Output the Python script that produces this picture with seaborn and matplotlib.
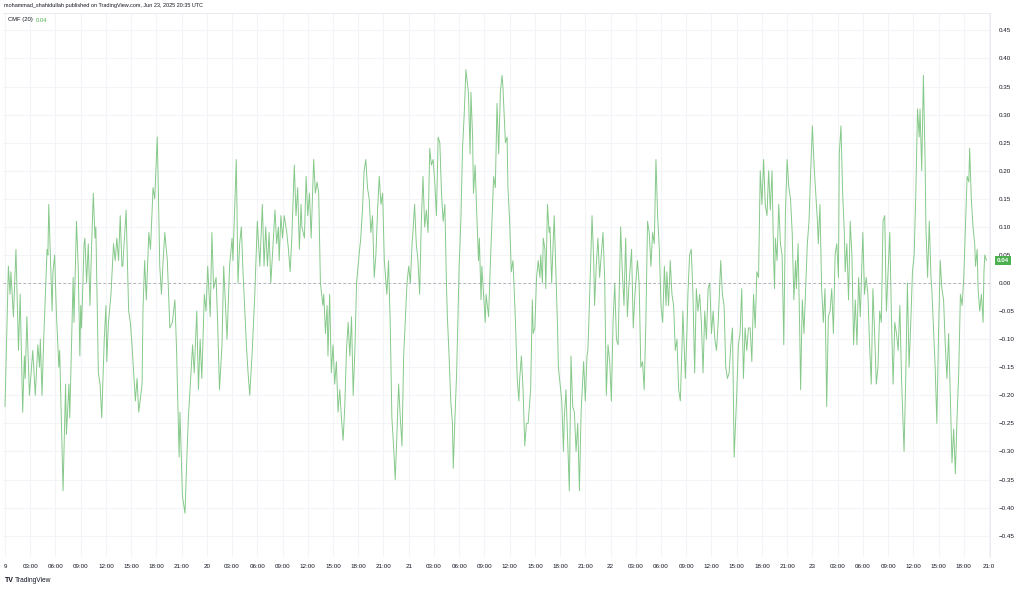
import numpy as np
import pandas as pd
import seaborn as sns
import matplotlib.pyplot as plt
import matplotlib.transforms as mtransforms

# CMF(20) readings, hours counted from Jun 19 00:00
hours_a = [0.0, 0.4, 0.6, 0.7, 1.0, 1.3, 1.6, 1.8, 2.1, 2.3,
           2.4, 2.6, 2.9, 3.1, 3.3, 3.6, 3.9, 4.1, 4.2, 4.4,
           4.6, 5.0, 5.1, 5.2, 5.6, 5.7, 5.9, 6.1, 6.4, 6.5,
           6.9, 7.2, 7.3, 7.6, 7.7, 8.1, 8.2, 8.5, 8.7, 8.9,
           9.0, 9.1, 9.4, 9.5, 9.7, 9.9, 10.1, 10.3, 10.5, 10.7,
           10.8, 11.1, 11.3, 11.5, 11.8, 12.0, 12.1, 12.3, 12.6, 12.9,
           13.1, 13.3, 13.5, 13.7, 13.9, 14.0, 14.4, 14.7, 14.9, 15.1,
           15.3, 15.5, 15.7, 15.9, 16.3, 16.4, 16.6, 16.8, 17.1, 17.3,
           17.6, 17.8, 18.1, 18.2, 18.4, 18.6, 18.8, 19.0, 19.3, 19.6,
           19.9, 20.2, 20.4, 20.7, 20.8, 21.1, 21.4, 21.6, 21.8, 22.0,
           22.3, 22.5, 22.8, 23.0, 23.2, 23.4, 23.7, 23.9, 24.1, 24.4,
           24.6, 24.8, 25.1, 25.3, 25.5, 25.8, 26.0, 26.4, 26.7, 27.0,
           27.1, 27.5, 27.7, 27.9, 28.1, 28.3, 28.7, 28.9, 29.1, 29.4,
           29.7, 30.0]
cmf_a = [-0.22, 0.03, -0.02, 0.02, -0.06, 0.06, -0.12, -0.02, -0.23, -0.13,
         -0.17, -0.06, -0.20, -0.16, -0.12, -0.20, -0.11, -0.15, -0.10, -0.20,
         -0.10, 0.06, 0.05, 0.14, -0.05, 0.02, 0.05, -0.05, -0.15, -0.12,
         -0.37, -0.18, -0.27, -0.18, -0.24, 0.01, -0.07, 0.11, 0.03, -0.13,
         -0.04, -0.08, 0.07, 0.08, 0.00, 0.07, -0.04, 0.07, 0.16, 0.08,
         0.10, -0.16, -0.18, -0.24, -0.10, -0.04, -0.14, -0.07, -0.02, 0.07,
         0.04, 0.08, 0.04, 0.12, 0.03, 0.03, 0.13, -0.05, -0.07, -0.11,
         -0.16, -0.21, -0.17, -0.23, -0.18, -0.05, 0.04, -0.03, 0.09, 0.06,
         0.17, 0.15, 0.26, 0.19, 0.03, -0.02, 0.04, 0.09, 0.04, -0.08,
         -0.07, -0.03, -0.12, -0.31, -0.23, -0.38, -0.41, -0.32, -0.24, -0.19,
         -0.11, -0.16, -0.05, -0.19, -0.10, -0.17, -0.02, -0.05, 0.03, -0.06,
         0.09, -0.01, 0.01, -0.08, -0.19, -0.11, 0.03, -0.10, 0.03, 0.08,
         0.04, 0.22, 0.00, 0.07, 0.10, 0.02, -0.11, -0.16, -0.20, -0.12,
         -0.02, 0.11]

hours_b = [30.3, 30.6, 30.8, 31.0, 31.2, 31.4, 31.6, 31.8, 32.1, 32.3,
           32.5, 32.6, 32.8, 33.0, 33.2, 33.5, 33.7, 33.9, 34.1, 34.4,
           34.6, 34.8, 35.0, 35.2, 35.3, 35.6, 35.8, 36.0, 36.2, 36.4,
           36.7, 36.9, 37.1, 37.3, 37.5, 37.8, 37.9, 38.1, 38.3, 38.4,
           38.6, 38.8, 39.0, 39.2, 39.4, 39.6, 39.8, 40.0, 40.2, 40.4,
           40.6, 40.8, 41.0, 41.2, 41.4, 41.6, 41.8, 42.1, 42.3, 42.5,
           42.7, 42.9, 43.1, 43.3, 43.5, 43.7, 43.9, 44.1, 44.3, 44.5,
           44.7, 44.9, 45.1, 45.4, 45.6, 45.8, 46.0, 46.2, 46.4, 46.6,
           46.8, 47.0, 47.2, 47.4, 47.8, 48.0, 48.2, 48.4, 48.5, 48.7,
           48.9, 49.1, 49.3, 49.5, 49.7, 49.9, 50.1, 50.3, 50.5, 50.7,
           50.9, 51.1, 51.3, 51.5, 51.7, 51.9, 52.1, 52.3, 52.5, 52.6,
           52.8, 53.0, 53.2, 53.3, 53.5, 53.7, 54.0, 54.2, 54.4, 54.6,
           54.8, 55.1, 55.3, 55.4, 55.6, 55.7, 55.9, 56.1, 56.3, 56.4,
           56.6, 56.7, 56.9, 57.1, 57.2, 57.5, 57.7, 57.9, 58.1, 58.3,
           58.5, 58.7, 58.9, 59.1, 59.2, 59.5, 59.7, 59.8]
cmf_b = [0.03, 0.14, 0.03, 0.10, 0.03, 0.09, 0.00, 0.05, 0.13, 0.07,
         0.10, 0.04, 0.12, 0.08, 0.12, 0.09, 0.06, 0.02, 0.08, 0.21,
         0.12, 0.17, 0.06, 0.14, 0.10, 0.08, 0.19, 0.12, 0.16, 0.08,
         0.22, 0.16, 0.18, 0.16, 0.00, -0.04, -0.02, -0.09, -0.04, -0.13,
         -0.02, -0.16, -0.11, -0.18, -0.14, -0.23, -0.19, -0.24, -0.28, -0.22,
         -0.12, -0.07, -0.13, -0.06, -0.20, -0.12, 0.00, 0.05, 0.08, 0.13,
         0.20, 0.22, 0.17, 0.15, 0.09, 0.12, 0.01, 0.05, 0.13, 0.19,
         0.14, 0.16, 0.04, -0.02, 0.04, -0.07, -0.24, -0.29, -0.35, -0.27,
         -0.18, -0.24, -0.29, -0.13, 0.00, 0.03, 0.00, 0.07, 0.09, 0.14,
         0.07, 0.04, -0.02, 0.11, 0.19, 0.10, 0.13, 0.09, 0.24, 0.21,
         0.22, 0.18, 0.12, 0.26, 0.25, 0.16, 0.11, 0.14, -0.01, -0.06,
         -0.13, -0.21, -0.25, -0.33, -0.24, -0.16, 0.03, 0.11, 0.24, 0.30,
         0.38, 0.34, 0.23, 0.34, 0.26, 0.16, 0.21, 0.12, 0.04, 0.08,
         -0.03, 0.03, -0.02, -0.07, -0.02, -0.06, 0.03, 0.11, 0.19, 0.17,
         0.32, 0.23, 0.34, 0.37, 0.35, 0.25, 0.26, 0.17]

hours_c = [60.0, 60.2, 60.4, 60.7, 60.9, 61.1, 61.2, 61.4, 61.6, 61.8,
           62.0, 62.2, 62.5, 62.7, 62.8, 63.0, 63.2, 63.4, 63.6, 63.7,
           63.9, 64.0, 64.2, 64.3, 64.5, 64.7, 64.8, 65.0, 65.3, 65.5,
           65.7, 65.8, 66.0, 66.2, 66.4, 66.5, 66.7, 66.9, 67.1, 67.3,
           67.5, 67.7, 67.9, 68.1, 68.3, 68.5, 68.7, 68.8, 69.0, 69.2,
           69.3, 69.4, 69.6, 69.8, 70.0, 70.1, 70.3, 70.5, 70.7, 70.8,
           71.1, 71.3, 71.5, 71.7, 71.9, 72.1, 72.3, 72.5, 72.7, 72.9,
           73.2, 73.4, 73.6, 73.8, 74.0, 74.2, 74.5, 74.7, 74.9, 75.2,
           75.4, 75.6, 75.8, 76.0, 76.2, 76.4, 76.6, 76.8, 77.0, 77.2,
           77.4, 77.6, 77.8, 78.0, 78.2, 78.4, 78.6, 78.7, 78.9, 79.1,
           79.3, 79.5, 79.7, 79.9, 80.1, 80.3, 80.5, 80.6, 80.9, 81.1,
           81.2, 81.4, 81.6, 81.8, 82.0, 82.2, 82.4, 82.6, 82.8, 83.0,
           83.2, 83.4, 83.6, 83.8, 84.0, 84.2, 84.4, 84.6, 84.8, 85.1,
           85.3, 85.5, 85.7, 85.9, 86.1, 86.3, 86.5, 86.7, 87.0, 87.2,
           87.4, 87.6, 87.8, 88.0, 88.2, 88.4, 88.6, 88.8, 89.0, 89.2,
           89.4, 89.6, 89.8, 90.0, 90.2, 90.4]
cmf_c = [0.11, 0.02, 0.04, -0.07, -0.17, -0.21, -0.17, -0.13, -0.19, -0.29,
         -0.25, -0.25, -0.19, -0.03, -0.09, -0.08, 0.01, 0.04, 0.01, 0.05,
         0.00, 0.08, 0.06, -0.01, 0.14, 0.09, 0.10, 0.00, 0.12, 0.02,
         -0.08, -0.15, -0.18, -0.21, -0.30, -0.24, -0.19, -0.28, -0.37, -0.13,
         -0.22, -0.23, -0.30, -0.25, -0.37, -0.23, -0.17, -0.14, -0.21, -0.13,
         -0.12, -0.08, 0.02, 0.12, 0.04, -0.04, 0.03, 0.08, 0.01, 0.03,
         0.09, 0.01, -0.20, -0.11, -0.14, -0.21, -0.07, 0.00, -0.10, -0.11,
         0.10, 0.02, -0.04, 0.08, -0.06, 0.00, 0.06, -0.08, -0.02, 0.04,
         0.00, -0.15, -0.14, -0.19, -0.07, 0.11, 0.09, 0.03, 0.09, 0.07,
         0.22, 0.12, 0.06, -0.04, -0.07, 0.03, -0.04, 0.02, -0.04, 0.04,
         -0.02, -0.04, -0.12, -0.10, -0.19, -0.21, -0.11, -0.05, -0.17, -0.08,
         -0.02, 0.05, 0.06, -0.02, -0.16, -0.01, -0.05, -0.02, -0.07, -0.16,
         -0.05, -0.10, -0.01, 0.00, -0.09, -0.05, -0.10, -0.12, -0.07, 0.04,
         -0.02, -0.04, -0.15, -0.17, -0.16, -0.11, -0.08, -0.31, -0.20, -0.11,
         -0.09, -0.01, -0.17, -0.08, -0.12, -0.08, -0.08, -0.14, -0.02, -0.08,
         0.02, 0.01, 0.20, 0.14, 0.22, 0.14]

hours_d = [90.6, 90.8, 91.0, 91.2, 91.4, 91.5, 91.6, 91.8, 92.0, 92.2,
           92.4, 92.6, 92.8, 93.0, 93.2, 93.4, 93.6, 93.8, 94.0, 94.1,
           94.3, 94.5, 94.6, 94.8, 95.0, 95.2, 95.4, 95.6, 95.8, 96.0,
           96.2, 96.4, 96.6, 96.7, 96.9, 97.1, 97.3, 97.5, 97.7, 97.9,
           98.1, 98.3, 98.5, 98.7, 98.9, 99.1, 99.2, 99.4, 99.6, 99.8,
           99.9, 100.1, 100.3, 100.5, 100.7, 100.9, 101.1, 101.3, 101.5, 101.7,
           102.0, 102.2, 102.4, 102.6, 102.8, 103.0, 103.2, 103.4, 103.6, 103.8,
           104.0, 104.2, 104.4, 104.6, 104.8, 105.0, 105.2, 105.4, 105.6, 105.8,
           106.0, 106.2, 106.4, 106.6, 106.9, 107.1, 107.3, 107.5, 107.7, 107.9,
           108.1, 108.3, 108.5, 108.7, 108.8, 109.0, 109.2, 109.4, 109.5, 109.7,
           109.9, 110.1, 110.2, 110.4, 110.6, 110.8, 111.0, 111.2, 111.4, 111.6,
           111.8, 112.0, 112.2, 112.4, 112.6, 112.8, 113.0, 113.2, 113.4, 113.6,
           113.8, 114.0, 114.2, 114.4, 114.6, 114.7, 114.9, 115.1, 115.3, 115.4,
           115.6, 115.7, 115.9, 116.1, 116.3, 116.4, 116.5, 116.7]
cmf_d = [0.12, 0.20, 0.13, 0.20, 0.04, -0.01, 0.08, 0.04, 0.14, 0.07,
         0.05, -0.11, 0.13, 0.22, 0.17, 0.15, 0.09, -0.03, 0.04, -0.01,
         0.07, -0.09, -0.19, -0.03, -0.09, -0.01, 0.07, 0.11, 0.20, 0.28,
         0.21, 0.16, 0.11, 0.07, 0.14, -0.01, -0.07, -0.01, -0.22, -0.06,
         -0.05, -0.01, -0.09, 0.05, 0.07, 0.01, 0.23, 0.28, 0.16, 0.09,
         0.02, 0.07, -0.03, 0.11, 0.05, -0.11, -0.03, -0.11, 0.01, -0.06,
         0.09, -0.02, 0.01, -0.02, -0.11, -0.18, -0.01, -0.09, -0.18, -0.15,
         -0.05, -0.07, 0.11, 0.12, -0.05, 0.02, 0.09, -0.06, -0.18, -0.07,
         -0.09, -0.12, -0.04, -0.17, -0.30, -0.17, 0.00, -0.15, -0.07, 0.02,
         0.05, 0.16, 0.31, 0.26, 0.31, 0.20, 0.37, 0.22, 0.10, 0.01,
         0.11, 0.01, -0.01, -0.08, -0.15, -0.25, -0.09, 0.04, -0.01, -0.03,
         -0.11, -0.17, -0.09, -0.20, -0.32, -0.26, -0.34, -0.24, -0.16, -0.02,
         -0.04, 0.01, 0.10, 0.19, 0.18, 0.24, 0.15, 0.10, 0.07, 0.03,
         0.06, -0.01, -0.05, -0.02, -0.07, 0.02, 0.05, 0.04]

x_tick_labels = ["9", "03:00", "06:00", "09:00", "12:00", "15:00", "18:00", "21:00",
                 "20", "03:00", "06:00", "09:00", "12:00", "15:00", "18:00", "21:00",
                 "21", "03:00", "06:00", "09:00", "12:00", "15:00", "18:00", "21:00",
                 "22", "03:00", "06:00", "09:00", "12:00", "15:00", "18:00", "21:00",
                 "23", "03:00", "06:00", "09:00", "12:00", "15:00", "18:00", "21:0"]
y_ticks = [-0.45, -0.40, -0.35, -0.30, -0.25, -0.20, -0.15, -0.10, -0.05, 0.00,
           0.05, 0.10, 0.15, 0.20, 0.25, 0.30, 0.35, 0.40, 0.45]

df = pd.DataFrame({
    "hours": hours_a + hours_b + hours_c + hours_d,
    "cmf": cmf_a + cmf_b + cmf_c + cmf_d,
})

sns.set_theme(style="white")
plt.rcParams["font.family"] = ["Liberation Sans", "DejaVu Sans"]

txt = "#131722"
green = "#4caf50"

fig = plt.figure(figsize=(10.24, 5.89), dpi=100)
ax = fig.add_axes([3 / 1024, 1 - 557 / 589, 987 / 1024, 544 / 589])

sns.lineplot(data=df, x="hours", y="cmf", ax=ax, color="#86c98a",
             linewidth=0.7, estimator=None, sort=False)
ax.axhline(0, color="#a3a6af", linestyle=(0, (3, 3)), linewidth=0.6)

ax.set_xlim(-0.24, 117.12)
ax.set_ylim(-0.488, 0.481)

ax.set_xticks(np.arange(0, 3 * len(x_tick_labels), 3))
ax.set_xticklabels(x_tick_labels)
ax.yaxis.tick_right()
ax.set_yticks(y_ticks)
ax.set_yticklabels([f"{v:.2f}".replace("-", "\u2212") for v in y_ticks])
ax.tick_params(axis="both", length=0, labelsize=4.5, labelcolor=txt)
ax.tick_params(axis="x", pad=5)
ax.tick_params(axis="y", pad=6)
ax.set_xlabel("")
ax.set_ylabel("")

ax.grid(True, color="#f3f4f7", linewidth=0.8)
ax.set_axisbelow(True)
for side in ["left", "bottom"]:
    ax.spines[side].set_visible(False)
for side in ["top", "right"]:
    ax.spines[side].set_color("#e6e8ee")
    ax.spines[side].set_linewidth(0.6)

# last value tag on the price scale
trans = mtransforms.blended_transform_factory(ax.transAxes, ax.transData)
last = df["cmf"].iloc[-1]
ax.text(1.007, last, f"{last:.2f}", transform=trans, color="white", fontsize=4.5,
        fontweight="bold", va="center", ha="left", clip_on=False,
        bbox=dict(boxstyle="square,pad=0.35", fc=green, ec="none"))

fig.text(4 / 1024, 1 - 6 / 589,
         "mohammad_shahidullah published on TradingView.com, Jun 23, 2025 20:35 UTC",
         fontsize=4.0, color=txt, va="center", ha="left")
fig.text(8 / 1024, 1 - 20 / 589, "CMF (20)", fontsize=4.2, color=txt, va="center")
fig.text(36 / 1024, 1 - 20 / 589, f"{last:.2f}", fontsize=4.2, color=green, va="center")

fig.text(5 / 1024, 1 - 581 / 589, "TV", fontsize=5, fontweight="bold", color=txt, va="center")
fig.text(15 / 1024, 1 - 581 / 589, "TradingView", fontsize=4.8, color=txt, va="center")

fig.savefig("out.png", dpi=100, facecolor="white")
